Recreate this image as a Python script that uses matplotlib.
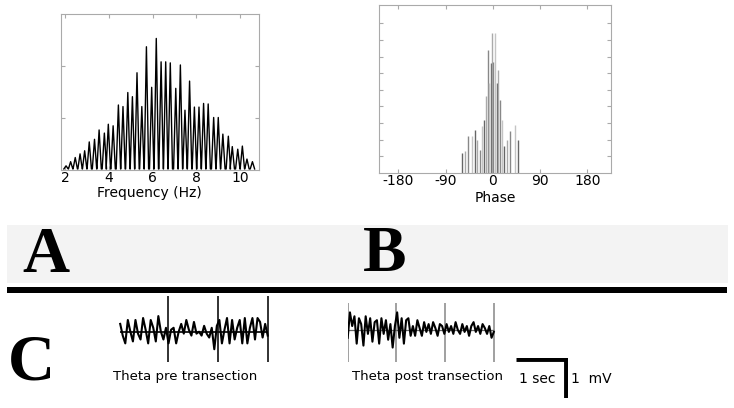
import numpy as np
import matplotlib.pyplot as plt
from matplotlib.patches import Rectangle

plt.rcParams['axes.unicode_minus'] = False

# Panel A: spectral peaks (Hz, arbitrary power)
peak_freqs = [2.05, 2.26, 2.47, 2.69, 2.90, 3.11, 3.35, 3.56, 3.80, 3.98,
              4.20, 4.44, 4.65, 4.87, 5.08, 5.29, 5.51, 5.72, 5.96, 6.17,
              6.39, 6.60, 6.81, 7.06, 7.27, 7.48, 7.69, 7.91, 8.12, 8.33,
              8.54, 8.79, 9.00, 9.21, 9.46, 9.64, 9.89, 10.10, 10.31, 10.56]
peak_power = [0.08, 0.16, 0.24, 0.31, 0.37, 0.54, 0.59, 0.77, 0.71, 0.88,
              0.85, 1.25, 1.22, 1.49, 1.41, 1.87, 1.22, 2.37, 1.59, 2.53,
              2.08, 2.08, 2.06, 1.57, 2.02, 1.15, 1.71, 1.21, 1.21, 1.28,
              1.27, 1.01, 1.01, 0.69, 0.65, 0.45, 0.40, 0.46, 0.21, 0.16]
freq_ticks = [2, 4, 6, 8, 10]

# Panel B: phase distribution (deg, counts)
phase_deg = [-59, -53, -48, -39, -34, -31, -25, -20, -17, -13, -10, -7, -4,
             -1, 1, 4, 7, 10, 13, 17, 22, 26, 32, 42, 48]
phase_count = [1.2, 1.3, 2.2, 2.2, 2.6, 2.0, 1.4, 2.8, 3.2, 4.6, 7.4, 5.4, 6.6,
               8.4, 6.7, 8.4, 5.4, 6.2, 4.4, 3.2, 1.6, 2.0, 2.5, 2.9, 2.0]
phase_ticks = [-180, -90, 0, 90, 180]

# Panel C: theta traces (mV) over 3 s
pre_trace = [0.2, -0.1, -0.3, 0.3, 0.0, -0.25, 0.3, -0.05, -0.2, 0.35,
             0.05, -0.3, 0.3, 0.1, -0.25, 0.4, 0.0, -0.2, 0.1,
             -0.3, 0.05, 0.1, -0.3, 0.0, 0.2, -0.05, 0.3, 0.05, -0.1,
             0.25, -0.05, 0.0, -0.1, 0.15, -0.05, -0.15, 0.1, -0.45, 0.15,
             0.3, -0.3, 0.05, 0.35, -0.3, 0.3, -0.2, 0.1, 0.3, -0.3,
             0.35, -0.3, 0.1, 0.35, -0.2, 0.35, 0.25, -0.15, 0.2, -0.1]
post_trace = [-0.2, 0.45, 0.1, 0.35, -0.35, 0.3, 0.15, -0.4, 0.35, -0.1,
              0.3, -0.3, 0.2, 0.25, -0.35, 0.3, -0.1, 0.25, -0.25, 0.15,
              -0.45, 0.1,
              0.45, -0.2, 0.3, -0.35, 0.25, 0.3, -0.15, 0.1, -0.15, 0.25,
              0.05, -0.15, 0.2, -0.05, 0.15, -0.1, 0.2, 0.05, -0.15, 0.15,
              0.1, -0.1,
              0.15, -0.05, 0.1, -0.1, 0.2, 0.0, -0.1, 0.15, -0.05, 0.1,
              -0.15, 0.1, 0.2, -0.05, 0.1, -0.1, 0.15, 0.05, -0.1, 0.1,
              -0.2, -0.05]
sec_marks = [1, 2, 3]
post_marks = [0, 1, 2, 3]

W, H = 734, 408
fig = plt.figure(figsize=(W / 100, H / 100), dpi=100)


def px_axes(x0, y0, x1, y1):
    # axes from pixel box (top-left origin)
    return fig.add_axes([x0 / W, 1 - y1 / H, (x1 - x0) / W, (y1 - y0) / H])


def frame(ax):
    for s in ax.spines.values():
        s.set_color('#aaaaaa')
        s.set_linewidth(0.8)
    ax.tick_params(direction='in', length=3, color='#aaaaaa', labelsize=10,
                   pad=1, top=True, right=True)
    ax.set_yticklabels([])


# ---- A: spectrum
axA = px_axes(61, 14, 259, 170)
xs, ys = [], []
for f, p in zip(peak_freqs, peak_power):
    xs += [f - 0.1, f, f + 0.1]
    ys += [0.02, p, 0.02]
axA.plot(xs, ys, color='black', lw=1.0)
axA.set_xlim(1.82, 10.86)
axA.set_ylim(0, 3)
axA.set_xticks(freq_ticks)
axA.set_yticks([1, 2])
frame(axA)
axA.set_xlabel('Frequency (Hz)', fontsize=10, labelpad=1)
axA.xaxis.set_label_coords(0.445, -0.1)

# ---- B: phase
axB = px_axes(379, 5, 611, 173)
shades = ['#666666', '#aaaaaa', '#888888', '#c4c4c4']
axB.vlines(phase_deg, 0, phase_count,
           colors=[shades[i % 4] for i in range(len(phase_deg))], lw=1.0)
axB.set_xlim(-217, 225)
axB.set_ylim(0, 10.1)
axB.set_xticks(phase_ticks)
axB.set_yticks(range(1, 10))
frame(axB)
axB.set_xlabel('Phase', fontsize=10, labelpad=2)

# ---- separator band and panel letters
fig.add_artist(Rectangle((7 / W, 1 - 283 / H), 721 / W, 58 / H,
                         transform=fig.transFigure, color='#f3f3f3', lw=0))
fig.add_artist(Rectangle((7 / W, 1 - 293 / H), 720 / W, 6 / H,
                         transform=fig.transFigure, color='black', lw=0))
for lab, x, y in [('A', 22, 272), ('B', 363, 271), ('C', 8, 379)]:
    fig.text(x / W, 1 - y / H, lab, family='Liberation Serif',
             fontweight='bold', fontsize=47, va='baseline')


# ---- C: traces
def trace(ax, vals, marks, t0, t1, mark_col, base_col, base_lw):
    t = np.linspace(t0, t1, len(vals))
    for m in marks:
        ax.axvline(m, color=mark_col, lw=1.3)
    ax.hlines(0, t0, t1, color=base_col, lw=base_lw)
    ax.plot(t, vals, color='black', lw=1.5)
    ax.axis('off')


axC1 = px_axes(117.7, 296, 272.7, 362)
trace(axC1, pre_trace, sec_marks, 0.05, 3.0, '#222222', '#111111', 1.3)
axC1.set_xlim(0, 3.1)
axC1.set_ylim(-0.777, 0.915)
fig.text(113 / W, 1 - 380 / H, 'Theta pre transection', fontsize=9.5,
         va='baseline')

axC2 = px_axes(347.7, 303, 497.7, 362)
trace(axC2, post_trace, post_marks, 0.0, 3.0, '#999999', '#666666', 0.9)
axC2.set_xlim(0, 3.08)
axC2.set_ylim(-0.82, 0.69)
fig.text(352 / W, 1 - 380 / H, 'Theta post transection', fontsize=9.5,
         va='baseline')

# scale bar: 1 sec x 1 mV
axS = px_axes(516, 358, 568, 398)
axS.plot([0, 1, 1], [1, 1, 0], color='black', lw=3.5, solid_capstyle='butt')
axS.set_xlim(0, 1.04)
axS.set_ylim(0, 1.03)
axS.axis('off')
fig.text(519 / W, 1 - 383 / H, '1 sec', fontsize=10, va='baseline')
fig.text(571 / W, 1 - 383 / H, '1  mV', fontsize=10, va='baseline')

fig.savefig('out.png', dpi=100)
